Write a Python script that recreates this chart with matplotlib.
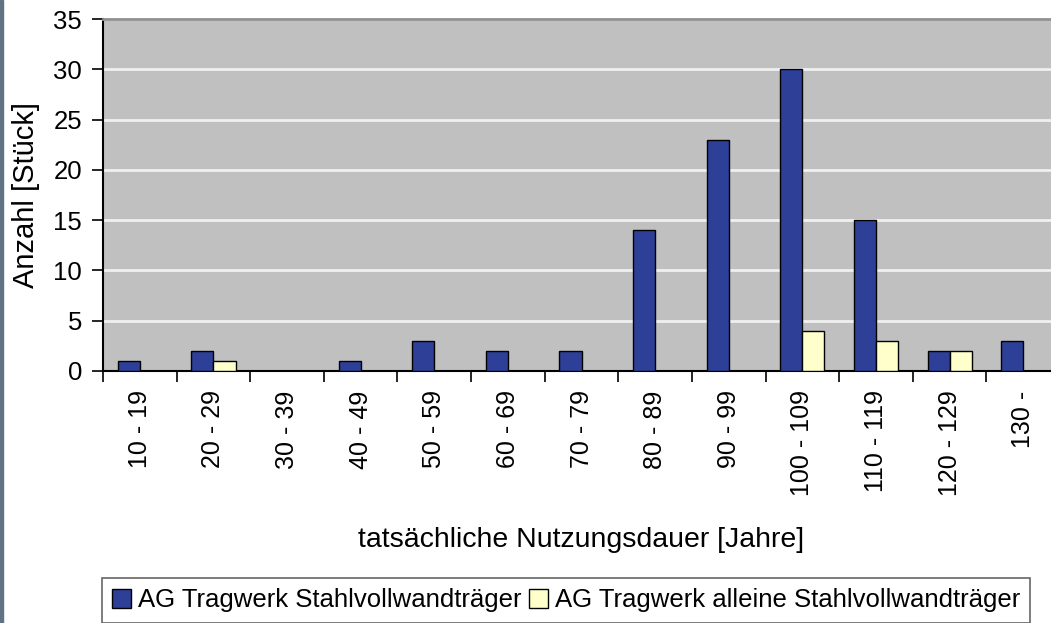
import numpy as np
import matplotlib
matplotlib.use("Agg")
import matplotlib.pyplot as plt
from matplotlib.patches import Rectangle

plt.rcParams['font.family'] = ['Liberation Sans', 'DejaVu Sans']

# data
categories = ['10 - 19', '20 - 29', '30 - 39', '40 - 49', '50 - 59', '60 - 69', '70 - 79',
              '80 - 89', '90 - 99', '100 - 109', '110 - 119', '120 - 129', '130 -']
stahl = [1, 2, 0, 1, 3, 2, 2, 14, 23, 30, 15, 2, 3]
stahl_allein = [0, 1, 0, 0, 0, 0, 0, 0, 0, 4, 3, 2, 0]
y_ticks = [0, 5, 10, 15, 20, 25, 30, 35]

fig = plt.figure(figsize=(10.51, 6.23), dpi=100)
ax = fig.add_axes([0.098, 0.4045, 0.9106, 0.565])
ax.set_facecolor('#c0c0c0')

x = np.arange(len(categories))
w = 0.3
ax.bar(x - w / 2, stahl, w, color='#2e3f98', edgecolor='black', linewidth=1.0,
       label='AG Tragwerk Stahlvollwandträger', zorder=3)
ax.bar(x + w / 2, stahl_allein, w, color='#ffffcc', edgecolor='black', linewidth=1.0,
       label='AG Tragwerk alleine Stahlvollwandträger', zorder=3)

ax.set_xlim(-0.5, len(categories) - 0.5)
ax.set_ylim(0, 35)
ax.set_yticks(y_ticks)
ax.yaxis.grid(True, color='#f0f0f0', linewidth=2, zorder=1)
ax.tick_params(axis='y', labelsize=18.5, length=8, width=1.2, pad=7)

# ticks at category boundaries, labels at centers
ax.set_xticks(np.arange(-0.5, len(categories) + 0.5, 1))
ax.set_xticklabels([])
ax.set_xticks(x, minor=True)
ax.set_xticklabels(categories, minor=True, rotation=90, fontsize=18)
ax.tick_params(axis='x', which='minor', length=0, pad=14)
ax.tick_params(axis='x', which='major', length=8, width=1.2)

ax.spines['top'].set_color('#909090')
ax.spines['top'].set_linewidth(2)
ax.spines['right'].set_visible(False)
ax.spines['left'].set_linewidth(1.5)
ax.spines['bottom'].set_linewidth(1.5)

ax.set_ylabel('Anzahl [Stück]', fontsize=21, labelpad=10)
ax.set_xlabel('tatsächliche Nutzungsdauer [Jahre]', fontsize=20.5, labelpad=22)

leg = fig.legend(loc='upper left', bbox_to_anchor=(0.097, 0.072), ncol=2, fontsize=18.5,
                 frameon=True, fancybox=False, edgecolor='#404040', handlelength=0.75,
                 handleheight=0.75, handletextpad=0.25, columnspacing=0.3,
                 borderpad=0.4, borderaxespad=0)
leg.get_frame().set_linewidth(1.2)

# thin strip on the left edge of the picture
fig.patches.append(Rectangle((0, 0), 0.003, 1, transform=fig.transFigure,
                             color='#5f7385', zorder=0))

fig.savefig('out.png', dpi=100)
